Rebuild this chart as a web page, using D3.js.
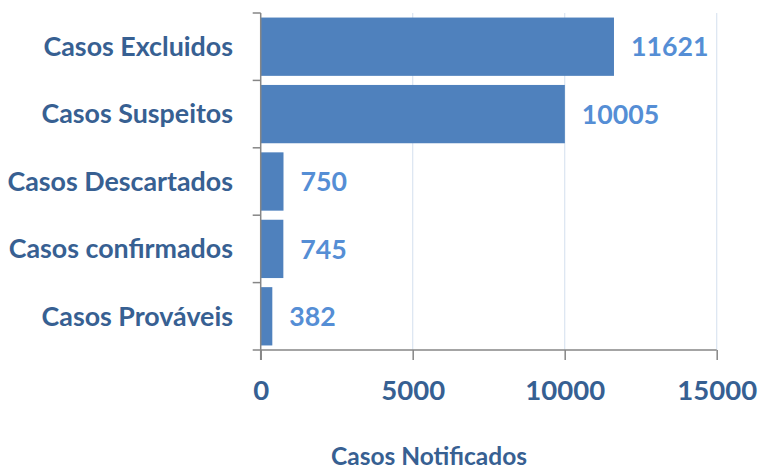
<!DOCTYPE html>
<html><head><meta charset="utf-8">
<script src="https://cdn.jsdelivr.net/npm/d3@7"></script>
<style>body{margin:0;background:#fff}svg{display:block}text{font-family:Lato,"Open Sans",sans-serif;font-weight:bold}</style>
</head><body><svg id="c" width="758" height="472"></svg>
<script>
const categories = ["Casos Excluidos","Casos Suspeitos","Casos Descartados","Casos confirmados","Casos Prováveis"];
const values = [11621, 10005, 750, 745, 382];
const xTicks = [0, 5000, 10000, 15000];
const xTitle = "Casos Notificados";

const svg = d3.select("#c");
const m = {l: 260.7, r: 716.7, t: 13, b: 350};
const x = d3.scaleLinear().domain([0, 15000]).range([m.l, m.r]);
const y = d3.scaleBand().domain(categories).range([m.t, m.b]).paddingInner(0.135).paddingOuter(0.0675);

// gridlines
svg.append("g").selectAll("line").data(xTicks.filter(d => d > 0)).join("line")
  .attr("x1", d => x(d)).attr("x2", d => x(d)).attr("y1", m.t).attr("y2", m.b)
  .attr("stroke", "#dbe5f1").attr("stroke-width", 1.2);

// bars
svg.append("g").selectAll("rect").data(values).join("rect")
  .attr("x", x(0)).attr("y", (d, i) => y(categories[i]))
  .attr("width", d => x(d) - x(0)).attr("height", y.bandwidth())
  .attr("fill", "#4f81bd");

// x axis
const xa = svg.append("g").attr("transform", `translate(0,${m.b})`)
  .call(d3.axisBottom(x).tickValues(xTicks).tickSize(10).tickPadding(20).tickFormat(d3.format("d")));
xa.select(".domain").attr("stroke", "#868686").attr("stroke-width", 1.5).attr("d", `M${m.l},0H${m.r}`);
xa.selectAll(".tick line").attr("stroke", "#868686").attr("stroke-width", 1.5);
xa.selectAll(".tick text").attr("fill", "#366092").style("font-size", "27.5px").style("font-family", "Lato,sans-serif");

// y axis (category boundary ticks)
const yg = svg.append("g");
yg.append("line").attr("x1", m.l).attr("x2", m.l).attr("y1", m.t).attr("y2", m.b + 10)
  .attr("stroke", "#868686").attr("stroke-width", 1.5);
const step = (m.b - m.t) / categories.length;
yg.selectAll("line.t").data(d3.range(categories.length + 1)).join("line").attr("class", "t")
  .attr("x1", m.l - 8).attr("x2", m.l).attr("y1", i => m.t + i * step).attr("y2", i => m.t + i * step)
  .attr("stroke", "#868686").attr("stroke-width", 1.5);

// category labels
svg.append("g").selectAll("text").data(categories).join("text")
  .attr("x", 233).attr("y", d => y(d) + y.bandwidth() / 2).attr("dy", "0.35em")
  .attr("text-anchor", "end").attr("fill", "#376092").style("font-size", "26.8px").text(d => d);

// value labels
svg.append("g").selectAll("text").data(values).join("text")
  .attr("x", d => x(d) + 17).attr("y", (d, i) => y(categories[i]) + y.bandwidth() / 2).attr("dy", "0.36em")
  .attr("fill", "#558ed5").style("font-size", "26.7px").text(d => d);

// axis title
svg.append("text").attr("x", 429).attr("y", 465).attr("text-anchor", "middle")
  .attr("fill", "#376092").style("font-size", "24.5px").text(xTitle);
</script></body></html>
